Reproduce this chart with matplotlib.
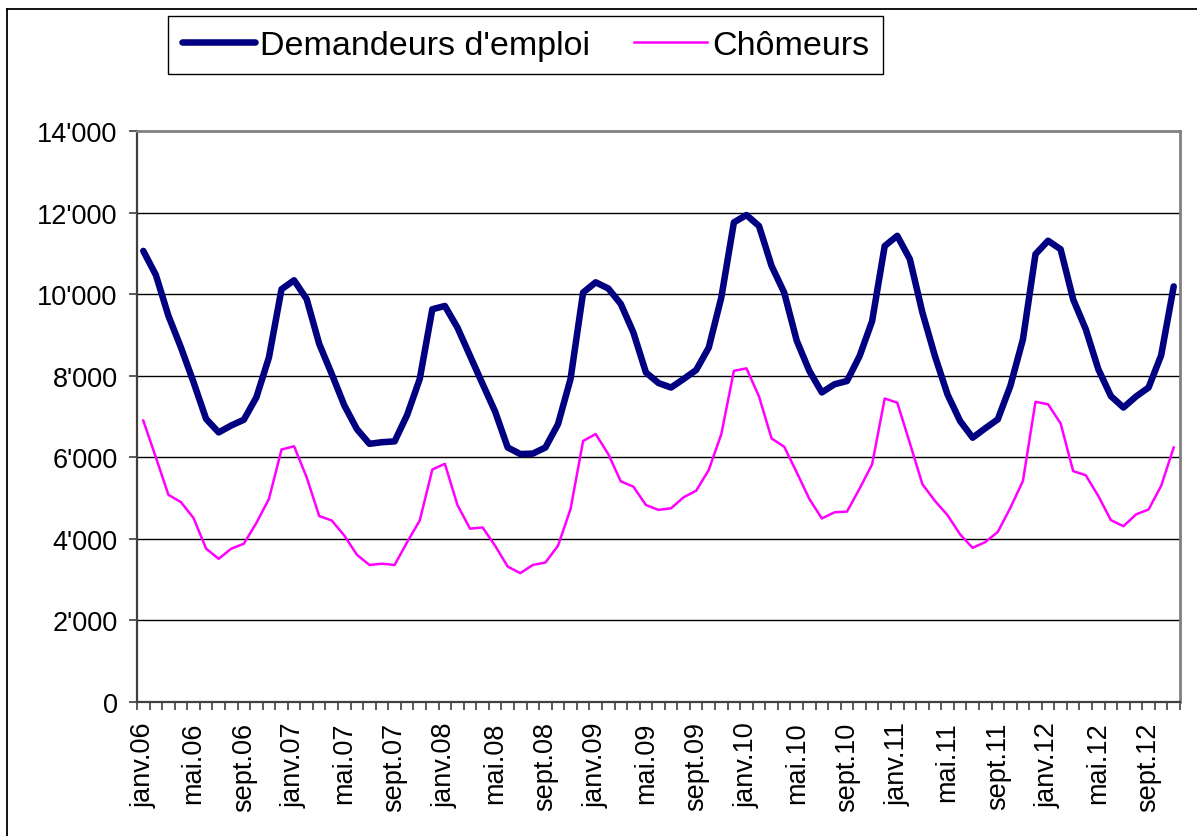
import matplotlib
matplotlib.use("Agg")
import matplotlib.pyplot as plt
from matplotlib.lines import Line2D
from matplotlib.ticker import FuncFormatter

plt.rcParams['font.family'] = ['Liberation Sans', 'DejaVu Sans']

# ---- data (monthly, janv.06 .. nov.12) ----
months_fr = ['janv.', 'févr.', 'mars.', 'avr.', 'mai.', 'juin.',
             'juil.', 'août.', 'sept.', 'oct.', 'nov.', 'déc.']
years = ['06', '07', '08', '09', '10', '11', '12']

demandeurs = [
    11060, 10470, 9470, 8690, 7840, 6940, 6610, 6780, 6920, 7470, 8450, 10120,
    10340, 9880, 8780, 8040, 7270, 6690, 6330, 6370, 6390, 7040, 7920, 9630,
    9710, 9180, 8490, 7800, 7120, 6240, 6080, 6090, 6240, 6810, 7920, 10040,
    10290, 10140, 9760, 9060, 8080, 7820, 7710, 7920, 8140, 8690, 9920, 11760,
    11940, 11670, 10690, 10040, 8860, 8120, 7590, 7790, 7870, 8480, 9340, 11180,
    11430, 10860, 9550, 8480, 7540, 6890, 6480, 6710, 6930, 7750, 8890, 10980,
    11310, 11100, 9870, 9140, 8160, 7500, 7220, 7490, 7710, 8500, 10190,
]
chomeurs = [
    6900, 6000, 5080, 4900, 4510, 3760, 3510, 3760, 3880, 4390, 4980, 6190,
    6270, 5510, 4560, 4450, 4080, 3610, 3360, 3390, 3360, 3920, 4450, 5700,
    5840, 4830, 4250, 4280, 3830, 3320, 3160, 3360, 3420, 3830, 4730, 6400,
    6570, 6080, 5410, 5280, 4830, 4710, 4750, 5020, 5180, 5690, 6570, 8120,
    8180, 7490, 6460, 6260, 5630, 4980, 4500, 4650, 4670, 5230, 5830, 7440,
    7340, 6350, 5340, 4930, 4580, 4110, 3780, 3920, 4170, 4760, 5420, 7360,
    7300, 6830, 5660, 5560, 5050, 4460, 4310, 4600, 4720, 5300, 6240,
]
labels_all = [m + y for y in years for m in months_fr][:len(demandeurs)]
yticks = [0, 2000, 4000, 6000, 8000, 10000, 12000, 14000]

W, H = 1197, 837
fig = plt.figure(figsize=(W / 100, H / 100), dpi=100)
fig.patch.set_facecolor('white')

# outer chart frame (left and top edges visible)
fig.add_artist(Line2D([7 / W, 7 / W], [0, 1 - 10 / H], transform=fig.transFigure,
                      color='black', lw=1.3))
fig.add_artist(Line2D([7 / W, 1], [1 - 10 / H, 1 - 10 / H], transform=fig.transFigure,
                      color='black', lw=1.3))

left, right, top, bottom = 137, 1180, 132, 703
ax = fig.add_axes([left / W, (H - bottom) / H, (right - left) / W, (bottom - top) / H])

n = len(demandeurs)
x = list(range(n))
ax.plot(x, demandeurs, color='#000080', lw=4.7, solid_joinstyle='round',
        solid_capstyle='round', label="Demandeurs d'emploi", zorder=3)
ax.plot(x, chomeurs, color='#FF00FF', lw=1.8, label='Chômeurs', zorder=3)

ax.set_xlim(-0.5, n - 0.5)
ax.set_ylim(0, 14000)
ax.set_yticks(yticks)
ax.yaxis.set_major_formatter(FuncFormatter(lambda v, p: f"{int(v):,}".replace(',', "'")))
ax.tick_params(axis='y', direction='out', length=6, width=1.2, color='#404040',
               labelsize=19.5, pad=8)
for yv in yticks[1:-1]:
    ax.axhline(yv, color='black', lw=1.0, zorder=1)

# x: boundary ticks (minor), labels at category centres every 4 months
ax.set_xticks([i - 0.5 for i in range(n + 1)], minor=True)
lab_idx = list(range(0, n, 4))
ax.set_xticks(lab_idx)
ax.set_xticklabels([labels_all[i] for i in lab_idx], rotation=90, fontsize=19.5,
                   va='top', ha='center')
ax.tick_params(axis='x', which='major', length=0, pad=14)
ax.tick_params(axis='x', which='minor', direction='out', length=6, width=1.2,
               color='#404040')

for s in ['top', 'right']:
    ax.spines[s].set_color('#808080')
    ax.spines[s].set_linewidth(2.0)
for s in ['left', 'bottom']:
    ax.spines[s].set_color('#404040')
    ax.spines[s].set_linewidth(1.6)

leg = fig.legend(loc='upper left', bbox_to_anchor=(168 / W, 1 - 17 / H), ncol=2,
                 fontsize=24.5, frameon=True, fancybox=False, edgecolor='black',
                 framealpha=1, borderaxespad=0, handlelength=2.15, handletextpad=0.15,
                 columnspacing=1.3, borderpad=0.4)
leg.get_frame().set_linewidth(1.0)

fig.savefig('out.png', dpi=100)
